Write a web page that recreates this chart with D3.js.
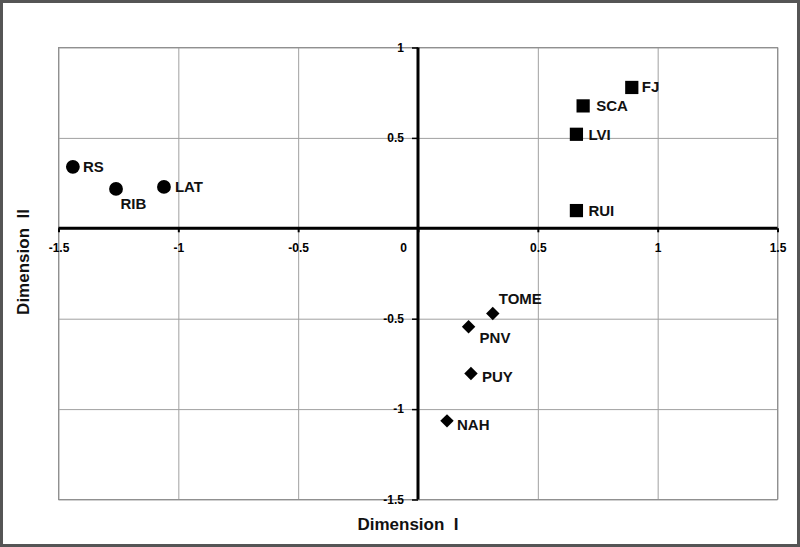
<!DOCTYPE html>
<html><head><meta charset="utf-8">
<script src="https://cdn.jsdelivr.net/npm/d3@7"></script>
<style>body{margin:0;background:#fff;} text{font-family:"Liberation Sans",Arial,sans-serif;font-weight:bold;}</style>
</head><body>
<svg id="chart" width="800" height="547"></svg>
<script>
// Data
const groupCircle = ["RS","RIB","LAT"];
const circleX = [-1.44,-1.26,-1.06];
const circleY = [0.34,0.218,0.229];
const groupSquare = ["FJ","SCA","LVI","RUI"];
const squareX = [0.892,0.689,0.661,0.661];
const squareY = [0.779,0.677,0.52,0.098];
const groupDiamond = ["TOME","PNV","PUY","NAH"];
const diamondX = [0.312,0.211,0.221,0.121];
const diamondY = [-0.471,-0.545,-0.803,-1.065];
const xTicks = [-1.5,-1,-0.5,0,0.5,1,1.5];
const yTicks = [-1.5,-1,-0.5,0,0.5,1];
const xTitle = "Dimension  I";
const yTitle = "Dimension  II";

// label placement (pixel offsets from marker centre)
const labelOffset = {
  RS:[10,5.5], RIB:[4.5,20.5], LAT:[11,5.5],
  FJ:[10,5], SCA:[13,5.5], LVI:[12,6], RUI:[12,5.5],
  TOME:[6,-9.5], PNV:[11,16], PUY:[11,9], NAH:[10,9]
};

const svg = d3.select("#chart");
const W = 800, H = 547;
const L = 58.5, R = 777.5, T = 47.5, B = 499.5;
const x = d3.scaleLinear().domain([-1.5,1.5]).range([L,R]);
const y = d3.scaleLinear().domain([-1.5,1]).range([B,T]);
const fmt = d => String(d);

svg.append("rect").attr("x",1.5).attr("y",1.5).attr("width",W-3).attr("height",H-3)
  .attr("fill","#fff").attr("stroke","#555").attr("stroke-width",3);

// gridlines
svg.append("g").attr("transform",`translate(0,${B})`)
  .call(d3.axisBottom(x).tickValues(xTicks).tickSize(-(B-T)).tickFormat(""))
  .call(g=>{g.select(".domain").remove(); g.selectAll("line").attr("stroke","#a0a0a0").attr("stroke-width",1);});
svg.append("g").attr("transform",`translate(${L},0)`)
  .call(d3.axisLeft(y).tickValues(yTicks).tickSize(-(R-L)).tickFormat(""))
  .call(g=>{g.select(".domain").remove(); g.selectAll("line").attr("stroke","#a0a0a0").attr("stroke-width",1);});
svg.append("rect").attr("x",L).attr("y",T).attr("width",R-L).attr("height",B-T)
  .attr("fill","none").attr("stroke","#909090").attr("stroke-width",1);

// x axis through y=0
const xAxis = svg.append("g").attr("transform",`translate(0,${y(0)})`)
  .call(d3.axisBottom(x).tickValues(xTicks).tickSize(4).tickPadding(11).tickFormat(fmt));
xAxis.select(".domain").attr("stroke","#000").attr("stroke-width",3).attr("d",`M${L},0H${R}`);
xAxis.selectAll("line").attr("stroke","#000").attr("stroke-width",2);
xAxis.selectAll("text").attr("font-size",12).attr("fill","#000")
  .attr("dx",d=>d===0?-15:0);

// y axis through x=0
const yAxis = svg.append("g").attr("transform",`translate(${x(0)},0)`)
  .call(d3.axisLeft(y).tickValues(yTicks.filter(d=>d!==0)).tickSize(6).tickPadding(8).tickFormat(fmt));
yAxis.select(".domain").attr("stroke","#000").attr("stroke-width",3).attr("d",`M0,${T}V${B}`);
yAxis.selectAll("line").attr("stroke","#000").attr("stroke-width",1.5);
yAxis.selectAll("text").attr("font-size",12).attr("fill","#000");

// markers
const pts = [];
groupCircle.forEach((n,i)=>pts.push({n,x:circleX[i],y:circleY[i],s:d3.symbolCircle,size:150}));
groupSquare.forEach((n,i)=>pts.push({n,x:squareX[i],y:squareY[i],s:d3.symbolSquare,size:175}));
groupDiamond.forEach((n,i)=>pts.push({n,x:diamondX[i],y:diamondY[i],s:d3.symbolDiamond2,size:115}));

svg.append("g").selectAll("path").data(pts).join("path")
  .attr("transform",d=>`translate(${x(d.x)},${y(d.y)})`)
  .attr("d",d=>d3.symbol().type(d.s).size(d.size)())
  .attr("fill","#000");

svg.append("g").selectAll("text").data(pts).join("text")
  .attr("x",d=>x(d.x)+labelOffset[d.n][0])
  .attr("y",d=>y(d.y)+labelOffset[d.n][1])
  .attr("font-size",15).attr("fill","#111").text(d=>d.n);

// titles
svg.append("text").attr("x",408).attr("y",530).attr("text-anchor","middle")
  .attr("font-size",17).attr("fill","#111").style("white-space","pre").text(xTitle);
svg.append("text").attr("transform","translate(29,262) rotate(-90)").attr("text-anchor","middle")
  .attr("font-size",17).attr("fill","#111").style("white-space","pre").text(yTitle);
</script>
</body></html>
